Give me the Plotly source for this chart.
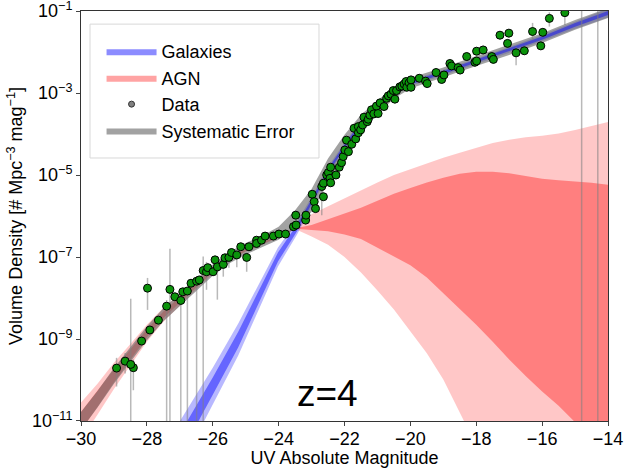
import plotly.graph_objects as go

# ---------------- data ----------------
# Observed points: UV magnitude, log10 density, upper / lower error (dex); FULL = error bar to bottom
FULL = 14.0
data_M = [-28.92, -28.66, -28.41, -28.49, -28.16, -27.91, -27.65, -27.98, -27.40, -27.30,
          -27.15, -26.97, -26.91, -26.77, -26.66, -26.49, -26.41, -26.29, -26.19, -26.15,
          -25.99, -25.93, -25.86, -25.68, -25.63, -25.51, -25.43, -25.27, -25.15, -24.97,
          -24.90, -24.67, -24.67, -24.52, -24.41, -24.16, -23.99, -23.79, -23.55, -23.48,
          -23.47, -23.18, -23.17, -22.98, -22.92, -22.88, -22.69, -22.64, -22.64, -22.54,
          -22.49, -22.44, -22.42, -22.42, -22.26, -22.16, -22.09, -22.04, -21.99, -21.88,
          -21.94, -21.78, -21.66, -21.71, -21.58, -21.58, -21.51, -21.45, -21.41, -21.31,
          -21.28, -21.23, -21.18, -21.11, -21.03, -20.98, -20.92, -20.80, -20.72, -20.67,
          -20.59, -20.52, -20.47, -20.42, -20.32, -20.26, -20.19, -20.13, -20.11, -20.04,
          -19.98, -19.98, -19.73, -19.54, -19.49, -19.22, -19.05, -18.98, -18.80, -18.75,
          -18.55, -18.49, -18.29, -18.04, -17.99, -17.99, -17.79, -17.53, -17.48, -17.28,
          -17.01, -17.05, -16.79, -16.54, -16.29, -16.04, -15.98, -15.78, -15.31, -14.80,
          -14.31]
data_logphi = [-9.71, -9.54, -9.70, -9.62, -9.05, -8.78, -8.54, -7.76, -8.20, -7.79,
               -7.97, -8.06, -7.85, -7.83, -7.64, -7.59, -7.56, -7.33, -7.36, -7.26,
               -7.36, -7.07, -7.24, -7.18, -7.02, -7.01, -6.89, -6.95, -6.75, -7.01,
               -6.75, -6.59, -6.67, -6.59, -6.49, -6.49, -6.44, -6.44, -6.26, -5.98,
               -6.22, -6.10, -5.98, -5.47, -5.65, -5.82, -5.28, -5.53, -5.20, -5.00,
               -4.94, -5.08, -5.19, -4.81, -5.00, -4.81, -4.70, -4.55, -4.39, -4.43,
               -4.15, -4.25, -4.12, -3.86, -3.97, -3.82, -3.90, -3.78, -3.59, -3.70,
               -3.64, -3.54, -3.41, -3.51, -3.32, -3.50, -3.24, -3.33, -3.13, -3.07,
               -3.03, -2.94, -3.15, -2.94, -2.85, -2.83, -2.78, -2.72, -2.86, -2.75,
               -2.86, -2.68, -2.64, -2.71, -2.77, -2.50, -2.67, -2.56, -2.28, -2.34,
               -2.38, -2.44, -2.11, -2.25, -1.98, -2.22, -1.95, -2.11, -2.18, -1.59,
               -1.54, -1.79, -2.02, -1.97, -1.50, -1.85, -1.52, -1.18, -1.04, -0.50,
               -0.50]
err_up = [0.25, 0.20, 0.20, 1.60, 0.10, 0.10, 0.10, 0.25, 0.15, 0.99,
          0.10, 0.06, 0.10, 0.07, 0.10, 0.11, 0.10, 0.34, 0.24, 0.10,
          0.10, 0.10, 0.17, 0.10, 0.10, 0.10, 0.10, 0.10, 0.10, 0.10,
          0.10, 0.08, 0.08, 0.08, 0.08, 0.08, 0.08, 0.08, 0.08, 0.10,
          0.10, 0.10, 0.10, 0.10, 0.10, 0.10, 0.21, 0.10, 0.10, 0.10,
          0.10, 0.10, 0.10, 0.10, 0.10, 0.10, 0.10, 0.10, 0.10, 0.10,
          0.10, 0.10, 0.10, 0.10, 0.10, 0.10, 0.10, 0.10, 0.10, 0.10,
          0.10, 0.10, 0.10, 0.10, 0.10, 0.10, 0.10, 0.10, 0.10, 0.10,
          0.10, 0.10, 0.10, 0.10, 0.10, 0.10, 0.10, 0.10, 0.10, 0.10,
          0.10, 0.10, 0.10, 0.10, 0.10, 0.10, 0.10, 0.10, 0.10, 0.10,
          0.10, 0.10, 0.10, 0.10, 0.10, 0.10, 0.10, 0.10, 0.10, 0.10,
          0.10, 0.10, 0.14, 0.10, 0.21, 0.10, 0.10, 0.15, 0.10, 0.50,
          0.50]
err_dn = [0.45, 0.30, 0.55, FULL, 0.12, 0.10, 0.10, 0.53, FULL, FULL,
          0.10, FULL, 0.10, FULL, 0.10, FULL, 0.10, FULL, 0.44, 0.10,
          0.10, 0.10, 0.80, 0.30, 0.10, 0.25, 0.10, 0.30, 0.10, 0.35,
          0.10, 0.10, 0.10, 0.10, 0.10, 0.10, 0.10, 0.10, 0.10, 0.10,
          0.10, 0.10, 0.10, 0.10, 0.10, 0.10, 0.70, 0.10, 0.10, 0.10,
          0.10, 0.10, 0.10, 0.10, 0.10, 0.10, 0.10, 0.10, 0.10, 0.10,
          0.10, 0.10, 0.10, 0.10, 0.10, 0.10, 0.10, 0.10, 0.10, 0.10,
          0.10, 0.10, 0.10, 0.10, 0.10, 0.10, 0.10, 0.10, 0.10, 0.10,
          0.10, 0.10, 0.10, 0.10, 0.10, 0.10, 0.10, 0.10, 0.10, 0.10,
          0.10, 0.10, 0.10, 0.10, 0.10, 0.10, 0.10, 0.10, 0.10, 0.10,
          0.10, 0.10, 0.10, 0.10, 0.10, 0.10, 0.10, 0.10, 0.10, 0.10,
          0.10, 0.10, 0.30, 0.10, 0.21, 0.10, 0.10, 0.20, 0.30, FULL,
          FULL]

# Total model with systematic error band (log10 centre and half width)
sys_M = [-30, -29.5, -29, -28.5, -28, -27.5, -27, -26.5, -26, -25.5, -25, -24.5, -24,
         -23.5, -23, -22.5, -22, -21.5, -21, -20.5, -20, -19, -18, -17, -16, -15, -14]
sys_log = [-11.0, -10.47, -9.9, -9.38, -8.86, -8.41, -8.05, -7.68, -7.32, -7.02, -6.8, -6.62,
           -6.42, -6.08, -5.62, -4.9, -4.3, -3.75, -3.35, -3.0, -2.76, -2.5, -2.22, -1.95,
           -1.66, -1.34, -1.05]
sys_hw = [0.22, 0.2, 0.19, 0.18, 0.17, 0.16, 0.15, 0.15, 0.14, 0.14, 0.14, 0.14, 0.16,
          0.22, 0.28, 0.3, 0.28, 0.22, 0.17, 0.14, 0.13, 0.12, 0.12, 0.12, 0.12, 0.12, 0.12]

# Galaxy model band
gal_M = [-27.4, -26.6, -26.0, -25.23, -24.5, -24.02, -23.44, -23.0, -22.5, -22, -21.5,
         -21, -20.5, -20, -19, -18, -17, -16, -15, -14]
gal_log = [-12.15, -11.0, -10.15, -9.02, -7.8, -7.0, -6.29, -5.66, -4.9, -4.3, -3.75,
           -3.35, -3.0, -2.76, -2.5, -2.22, -1.95, -1.66, -1.34, -1.05]
gal_hw_outer = [0.62, 0.52, 0.45, 0.39, 0.3, 0.23, 0.16, 0.12, 0.1, 0.09, 0.08, 0.08,
                0.07, 0.07, 0.07, 0.07, 0.07, 0.08, 0.09, 0.11]
gal_hw_inner = [0.29, 0.25, 0.21, 0.19, 0.15, 0.11, 0.08, 0.06, 0.05, 0.045, 0.04, 0.04,
                0.035, 0.035, 0.035, 0.035, 0.035, 0.04, 0.045, 0.05]

# AGN model band edges (log10)
agn_M = [-30.2, -30, -29.5, -29, -28.5, -28, -27.5, -27, -26.5, -26, -25.5, -25, -24.5, -24,
         -23.5, -23, -22.5, -22, -21.5, -21, -20.5, -20, -19.5, -19, -18.5, -18, -17.5, -17,
         -16.5, -16, -15.5, -15, -14.5, -14]
agn_light_hi = [-10.75, -10.55, -10.09, -9.58, -9.12, -8.65, -8.24, -7.91, -7.57, -7.23, -6.96,
                -6.78, -6.62, -6.47, -6.29, -5.96, -5.76, -5.56, -5.36, -5.18, -5.0, -4.86,
                -4.71, -4.58, -4.46, -4.34, -4.22, -4.14, -4.08, -4.04, -3.99, -3.9, -3.8, -3.71]
agn_dark_hi = [-10.99, -10.78, -10.28, -9.74, -9.25, -8.76, -8.33, -7.98, -7.63, -7.28, -7.0,
               -6.81, -6.64, -6.49, -6.3, -6.22, -6.08, -5.95, -5.8, -5.63, -5.46, -5.32,
               -5.18, -5.07, -4.97, -4.92, -4.92, -4.96, -5.03, -5.09, -5.13, -5.16, -5.19, -5.24]
agn_dark_lo = [-11.45, -11.22, -10.66, -10.06, -9.51, -8.96, -8.49, -8.12, -7.74, -7.37, -7.07,
               -6.86, -6.68, -6.52, -6.31, -6.34, -6.37, -6.45, -6.56, -6.76, -6.98, -7.2,
               -7.5, -7.88, -8.27, -8.65, -9.07, -9.5, -9.9, -10.28, -10.63, -11.03, -11.4, -11.8]
agn_light_lo = [-11.69, -11.45, -10.85, -10.22, -9.64, -9.07, -8.58, -8.19, -7.79, -7.41, -7.1,
                -6.88, -6.7, -6.53, -6.32, -6.5, -6.7, -7.0, -7.38, -7.82, -8.28, -8.8,
                -9.35, -9.99, -10.8, -11.6, -12.5, -13.3, -14.1, -15.0, -15.8, -16.5, -17.2, -18.0]

y_tickvals = [1e-11, 1e-9, 1e-7, 1e-5, 1e-3, 1e-1]
y_ticktext = ["10<sup>\u221211</sup>", "10<sup>\u22129</sup>", "10<sup>\u22127</sup>",
              "10<sup>\u22125</sup>", "10<sup>\u22123</sup>", "10<sup>\u22121</sup>"]

FONT = "Liberation Sans, Arial, Helvetica, sans-serif"


def band(xs, lo_log, hi_log):
    bx = list(xs) + list(xs)[::-1]
    by = [10 ** v for v in hi_log] + [10 ** v for v in lo_log][::-1]
    return bx, by


fig = go.Figure()

# AGN band
bx, by = band(agn_M, agn_light_lo, agn_light_hi)
fig.add_trace(go.Scatter(x=bx, y=by, fill="toself", mode="lines", line=dict(width=0),
                         fillcolor="rgba(255,0,0,0.22)", showlegend=False, hoverinfo="skip"))
bx, by = band(agn_M, agn_dark_lo, agn_dark_hi)
fig.add_trace(go.Scatter(x=bx, y=by, fill="toself", mode="lines", line=dict(width=0),
                         fillcolor="rgba(255,0,0,0.36)", name="AGN", legendrank=2,
                         legendgroup="b", hoverinfo="skip"))

# Galaxy band
bx, by = band(gal_M, [c - w for c, w in zip(gal_log, gal_hw_outer)],
              [c + w for c, w in zip(gal_log, gal_hw_outer)])
fig.add_trace(go.Scatter(x=bx, y=by, fill="toself", mode="lines", line=dict(width=0),
                         fillcolor="rgba(0,0,255,0.28)", showlegend=False, hoverinfo="skip"))

# Systematic error band
bx, by = band(sys_M, [c - w for c, w in zip(sys_log, sys_hw)],
              [c + w for c, w in zip(sys_log, sys_hw)])
fig.add_trace(go.Scatter(x=bx, y=by, fill="toself", mode="lines", line=dict(width=0),
                         fillcolor="rgba(100,100,100,0.6)", name="Systematic Error",
                         legendrank=4, legendgroup="d", hoverinfo="skip"))

bx, by = band(gal_M, [c - w for c, w in zip(gal_log, gal_hw_inner)],
              [c + w for c, w in zip(gal_log, gal_hw_inner)])
fig.add_trace(go.Scatter(x=bx, y=by, fill="toself", mode="lines", line=dict(width=0),
                         fillcolor="rgba(0,0,255,0.45)", name="Galaxies", legendrank=1,
                         legendgroup="a", hoverinfo="skip"))

# Data with error bars
ys = [10 ** v for v in data_logphi]
plus = [10 ** (v + u) - 10 ** v for v, u in zip(data_logphi, err_up)]
minus = [10 ** v - 10 ** (v - d) for v, d in zip(data_logphi, err_dn)]
fig.add_trace(go.Scatter(
    x=data_M, y=ys, mode="markers", showlegend=False,
    marker=dict(color="#0b930b", size=8, line=dict(color="black", width=1)),
    error_y=dict(type="data", array=plus, arrayminus=minus, symmetric=False,
                 color="rgba(128,128,128,0.55)", thickness=1.5, width=0)))
# legend proxy for data
fig.add_trace(go.Scatter(x=[None], y=[None], mode="markers", name="Data", legendrank=3,
                         legendgroup="c",
                         marker=dict(color="gray", size=6, line=dict(color="#333", width=1))))

fig.add_annotation(text="z=4", x=0.467, y=0.012, xref="paper", yref="paper",
                   xanchor="center", yanchor="bottom", showarrow=False,
                   font=dict(size=37, color="black", family=FONT))

# legend frame
fig.add_shape(type="rect", xref="paper", yref="paper", x0=0.0171, x1=0.4516,
              y0=0.6415, y1=0.968, line=dict(color="#d8d8d8", width=1),
              fillcolor="rgba(255,255,255,0.8)", layer="above")

fig.update_layout(
    width=626, height=468,
    margin=dict(l=81, r=18, t=11, b=47),
    paper_bgcolor="white", plot_bgcolor="white",
    font=dict(family=FONT, size=18, color="black"),
    showlegend=True,
    legend=dict(x=0.039, y=0.946, xanchor="left", yanchor="top",
                bgcolor="rgba(0,0,0,0)", borderwidth=0,
                font=dict(size=18, family=FONT), itemwidth=50, tracegroupgap=0),
    xaxis=dict(range=[-30, -14], dtick=2, tick0=-30, ticks="outside", ticklen=4,
               showline=True, linecolor="#333", linewidth=1, mirror=True, showgrid=False,
               zeroline=False, automargin=False, ticklabeloverflow="allow",
               ticklabelstandoff=-3,
               title=dict(text="UV Absolute Magnitude", standoff=2, font=dict(size=18)),
               tickfont=dict(size=18)),
    yaxis=dict(type="log", range=[-11.0002, -0.9998], tickvals=y_tickvals, ticktext=y_ticktext,
               ticks="outside", ticklen=4, showline=True, linecolor="#333", linewidth=1,
               mirror=True, showgrid=False, zeroline=False, automargin=False,
               ticklabeloverflow="allow",
               title=dict(text="Volume Density [# Mpc<sup>\u22123</sup> mag<sup>\u22121</sup>]",
                          standoff=4, font=dict(size=18)),
               tickfont=dict(size=18)),
)

fig.write_html("out.html", config={"displayModeBar": False},
               post_script="document.body.style.margin='0';document.body.style.overflow='hidden';")
